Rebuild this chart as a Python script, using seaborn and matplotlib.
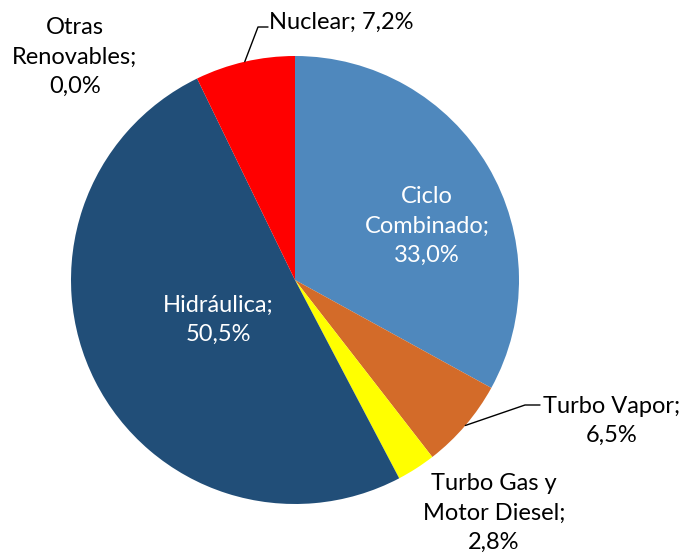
import numpy as np
import matplotlib
matplotlib.use("Agg")
import matplotlib.pyplot as plt
import seaborn as sns

# data
categories = ["Ciclo\nCombinado", "Turbo Vapor", "Turbo Gas y\nMotor Diesel",
              "Hidráulica", "Otras\nRenovables", "Nuclear"]
shares = [33.0, 6.5, 2.8, 50.5, 0.0, 7.2]
colors = ["#4F88BD", "#D36B29", "#FFFF00", "#214E78", "#70AD47", "#FF0000"]

sns.set_theme(style="white")
plt.rcParams['font.family'] = ['Lato', 'DejaVu Sans']

W, H = 687, 557
fig = plt.figure(figsize=(W / 100, H / 100), dpi=100)
ax = fig.add_axes([0, 0, 1, 1])

cx, cy, r = 295, H - 280, 224
wedges, _ = ax.pie(shares, colors=colors, startangle=90, counterclock=False,
                   center=(cx, cy), radius=r, frame=True,
                   wedgeprops=dict(linewidth=0))
ax.set_xlim(0, W)
ax.set_ylim(0, H)
ax.set_aspect("equal")
ax.axis("off")


def label(i):
    return f"{categories[i]};\n{shares[i]:.1f}%".replace(".", ",")


def edge(i):
    w = wedges[i]
    a = np.deg2rad((w.theta1 + w.theta2) / 2)
    return cx + r * np.cos(a), cy + r * np.sin(a)


fs = 17
kw = dict(fontsize=fs, ha="center", va="center", linespacing=1.5)

ax.text(427, H - 226, label(0), color="white", **kw)
ax.text(218, H - 320, label(3), color="white", **kw)
ax.text(612, H - 421, label(1), color="black", **kw)
ax.text(494, H - 513, label(2), color="black", **kw)
ax.text(75, H - 57, label(4), color="black", **kw)
ax.text(269, H - 22, label(5).replace("\n", " "), color="black",
        fontsize=fs, ha="left", va="center")

# leader lines
x0, y0 = edge(5)
ax.plot([x0, 258, 268], [y0, H - 27, H - 27], color="black", lw=1)
x1, y1 = edge(1)
ax.plot([x1, 525, 540], [y1, H - 405, H - 405], color="black", lw=1)

fig.savefig("out.png", dpi=100)
